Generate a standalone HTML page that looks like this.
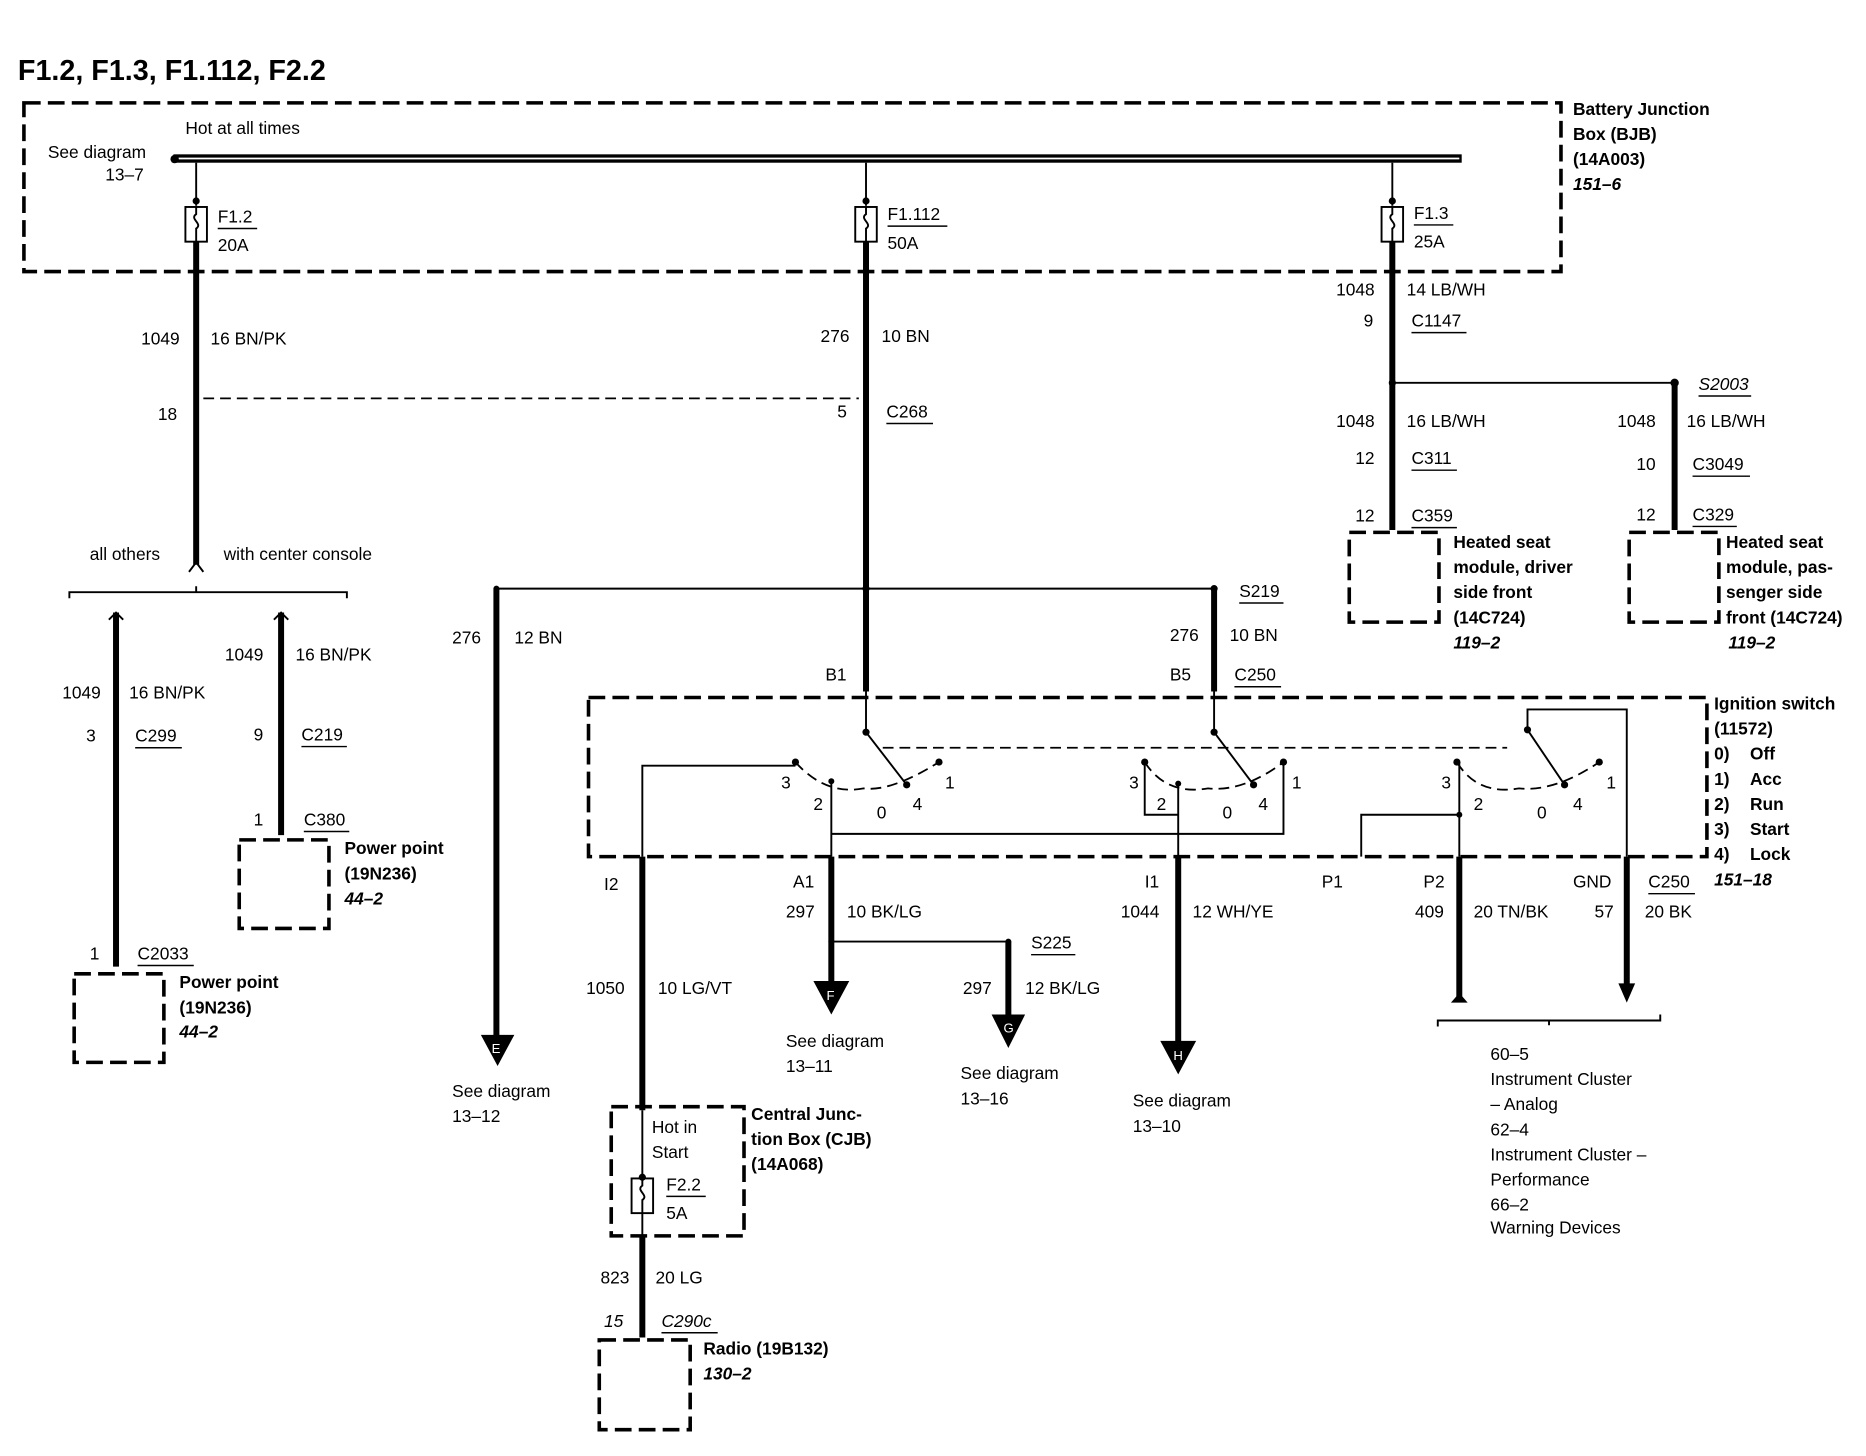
<!DOCTYPE html>
<html><head><meta charset="utf-8"><style>
html,body{margin:0;padding:0;background:#fff;}
svg{display:block;}
text{font-family:"Liberation Sans",Arial,sans-serif;font-size:14.5px;fill:#000;}
.b{font-weight:bold;}
.i{font-style:italic;font-weight:bold;}
.t{stroke:#000;stroke-width:5;fill:none;}
.n{stroke:#000;stroke-width:1.6;fill:none;}
.d{stroke:#000;stroke-width:3;fill:none;stroke-dasharray:14 6;}
.dl{stroke:#000;stroke-width:1.5;fill:none;stroke-dasharray:9 5;}
.u{stroke:#000;stroke-width:1.2;}
</style></head><body>
<svg width="1866" height="1456" viewBox="0 0 1560 1217" preserveAspectRatio="none" xmlns="http://www.w3.org/2000/svg">
<rect width="1560" height="1217" fill="#fff"/>
<text x="15" y="67" class="b" style="font-size:24px">F1.2, F1.3, F1.112, F2.2</text>

<!-- BJB -->
<rect x="20" y="86" width="1285" height="141" class="d"/>
<text x="1315" y="96" class="b">Battery Junction</text>
<text x="1315" y="117" class="b">Box (BJB)</text>
<text x="1315" y="138" class="b">(14A003)</text>
<text x="1315" y="159" class="i">151–6</text>
<text x="155" y="112">Hot at all times</text>
<text x="40" y="132">See diagram</text>
<text x="88" y="151">13–7</text>
<rect x="145" y="129" width="1077" height="7" fill="#000"/>
<line x1="148" y1="132.5" x2="1220" y2="132.5" stroke="#fff" stroke-width="1.5"/>
<circle cx="146" cy="133" r="3.5" fill="#000"/>

<!-- fuses -->
<g>
<line x1="164" y1="136" x2="164" y2="172" class="n"/><circle cx="164" cy="168" r="3" fill="#000"/>
<rect x="155" y="173" width="18" height="29" class="n" stroke-width="2"/>
<path d="M164 173 v6 c-6 4 6 8 0 12 v11" class="n"/>
<text x="182" y="186">F1.2</text><line x1="182" y1="191" x2="215" y2="191" class="u"/><text x="182" y="210">20A</text>

<line x1="724" y1="136" x2="724" y2="172" class="n"/><circle cx="724" cy="168" r="3" fill="#000"/>
<rect x="715" y="173" width="18" height="29" class="n" stroke-width="2"/>
<path d="M724 173 v6 c-6 4 6 8 0 12 v11" class="n"/>
<text x="742" y="184">F1.112</text><line x1="742" y1="189" x2="792" y2="189" class="u"/><text x="742" y="208">50A</text>

<line x1="1164" y1="136" x2="1164" y2="172" class="n"/><circle cx="1164" cy="168" r="3" fill="#000"/>
<rect x="1155" y="173" width="18" height="29" class="n" stroke-width="2"/>
<path d="M1164 173 v6 c-6 4 6 8 0 12 v11" class="n"/>
<text x="1182" y="183">F1.3</text><line x1="1182" y1="188" x2="1215" y2="188" class="u"/><text x="1182" y="207">25A</text>
</g>

<!-- left trunk -->
<line x1="164" y1="202" x2="164" y2="472" class="t"/>
<text x="118" y="288">1049</text><text x="176" y="288">16 BN/PK</text>
<text x="132" y="351">18</text>
<line x1="170" y1="333" x2="718" y2="333" class="dl"/>
<path d="M158 478 l6 -8 l6 8" class="n" stroke-width="2.5"/>
<text x="75" y="468">all others</text><text x="187" y="468">with center console</text>
<path d="M58 500 v-5 h232 v5 M164 495 v-5" class="n" stroke-width="3"/>

<line x1="97" y1="512" x2="97" y2="808" class="t"/>
<path d="M91 518 l6 -6 l6 6" class="n" stroke-width="2"/>
<text x="52" y="584">1049</text><text x="108" y="584">16 BN/PK</text>
<text x="72" y="620">3</text><text x="113" y="620">C299</text><line x1="113" y1="625" x2="152" y2="625" class="u"/>
<text x="75" y="802">1</text><text x="115" y="802">C2033</text><line x1="115" y1="807" x2="162" y2="807" class="u"/>
<rect x="62" y="814" width="75" height="74" class="d"/>
<text x="150" y="826" class="b">Power point</text><text x="150" y="847" class="b">(19N236)</text><text x="150" y="867" class="i">44–2</text>

<line x1="235" y1="512" x2="235" y2="698" class="t"/>
<path d="M229 518 l6 -6 l6 6" class="n" stroke-width="2"/>
<text x="188" y="552">1049</text><text x="247" y="552">16 BN/PK</text>
<text x="212" y="619">9</text><text x="252" y="619">C219</text><line x1="252" y1="624" x2="290" y2="624" class="u"/>
<text x="212" y="690">1</text><text x="254" y="690">C380</text><line x1="254" y1="695" x2="292" y2="695" class="u"/>
<rect x="200" y="702" width="75" height="74" class="d"/>
<text x="288" y="714" class="b">Power point</text><text x="288" y="735" class="b">(19N236)</text><text x="288" y="756" class="i">44–2</text>

<!-- center trunk -->
<line x1="724" y1="202" x2="724" y2="578" class="t"/>
<text x="686" y="286">276</text><text x="737" y="286">10 BN</text>
<text x="700" y="349">5</text><text x="741" y="349">C268</text><line x1="741" y1="354" x2="780" y2="354" class="u"/>
<line x1="415" y1="492" x2="1015" y2="492" class="n"/>
<circle cx="724" cy="492" r="3" fill="#000"/><circle cx="415" cy="492" r="2.5" fill="#000"/><circle cx="1015" cy="492" r="3" fill="#000"/>
<line x1="415" y1="492" x2="415" y2="868" class="t"/>
<path d="M402 865 h28 l-14 26 z" fill="#000"/><text x="411" y="880" style="font-size:11px;fill:#fff">E</text>
<text x="378" y="538">276</text><text x="430" y="538">12 BN</text>
<text x="378" y="917">See diagram</text><text x="378" y="938">13–12</text>
<text x="1036" y="499">S219</text><line x1="1036" y1="504" x2="1073" y2="504" class="u"/>
<line x1="1015" y1="492" x2="1015" y2="578" class="t"/>
<text x="978" y="536">276</text><text x="1028" y="536">10 BN</text>
<text x="690" y="569">B1</text><text x="978" y="569">B5</text><text x="1032" y="569">C250</text><line x1="1032" y1="574" x2="1071" y2="574" class="u"/>

<!-- ignition switch -->
<rect x="492" y="583" width="935" height="133" class="d"/>
<text x="1433" y="593" class="b">Ignition switch</text>
<text x="1433" y="614" class="b">(11572)</text>
<text x="1433" y="635" class="b">0)</text><text x="1463" y="635" class="b">Off</text>
<text x="1433" y="656" class="b">1)</text><text x="1463" y="656" class="b">Acc</text>
<text x="1433" y="677" class="b">2)</text><text x="1463" y="677" class="b">Run</text>
<text x="1433" y="698" class="b">3)</text><text x="1463" y="698" class="b">Start</text>
<text x="1433" y="719" class="b">4)</text><text x="1463" y="719" class="b">Lock</text>
<text x="1433" y="740" class="i">151–18</text>

<line x1="738" y1="625" x2="1260" y2="625" class="dl"/>
<!-- switch1 -->
<line x1="724" y1="578" x2="724" y2="612" class="n"/><circle cx="724" cy="612" r="3" fill="#000"/>
<line x1="724" y1="612" x2="758" y2="656" class="n"/>
<path d="M665 637 Q690 665 722 659 Q745 662 785 637" class="dl"/>
<circle cx="665" cy="637" r="3" fill="#000"/><circle cx="785" cy="637" r="3" fill="#000"/><circle cx="758" cy="656" r="3" fill="#000"/><circle cx="695" cy="653" r="2.5" fill="#000"/>
<text x="653" y="659">3</text><text x="680" y="677">2</text><text x="733" y="684">0</text><text x="763" y="677">4</text><text x="790" y="659">1</text>
<path d="M537 716 V640 H665" class="n"/>
<path d="M695 653 V716 M695 697 H1073 V637" class="n"/>
<!-- switch2 -->
<line x1="1015" y1="578" x2="1015" y2="612" class="n"/><circle cx="1015" cy="612" r="3" fill="#000"/>
<line x1="1015" y1="612" x2="1048" y2="656" class="n"/>
<path d="M957 637 Q975 665 1010 659 Q1040 662 1073 637" class="dl"/>
<circle cx="957" cy="637" r="3" fill="#000"/><circle cx="1073" cy="637" r="3" fill="#000"/><circle cx="1048" cy="656" r="3" fill="#000"/><circle cx="985" cy="655" r="2.5" fill="#000"/>
<path d="M957 637 V681 H985 M985 655 V716" class="n"/>
<text x="944" y="659">3</text><text x="967" y="677">2</text><text x="1022" y="684">0</text><text x="1052" y="677">4</text><text x="1080" y="659">1</text>
<!-- switch3 -->
<path d="M1360 716 V593 H1277 V610" class="n"/><circle cx="1277" cy="610" r="3" fill="#000"/>
<line x1="1277" y1="610" x2="1308" y2="656" class="n"/>
<path d="M1218 637 Q1235 665 1270 659 Q1300 662 1337 637" class="dl"/>
<circle cx="1218" cy="637" r="3" fill="#000"/><circle cx="1337" cy="637" r="3" fill="#000"/><circle cx="1308" cy="656" r="3" fill="#000"/>
<text x="1205" y="659">3</text><text x="1232" y="677">2</text><text x="1285" y="684">0</text><text x="1315" y="677">4</text><text x="1343" y="659">1</text>
<path d="M1220 637 V716 M1220 681 H1138 V716" class="n"/><circle cx="1220" cy="681" r="2.5" fill="#000"/>

<!-- outputs -->
<text x="505" y="744">I2</text>
<line x1="537" y1="716" x2="537" y2="928" class="t"/>
<text x="490" y="831">1050</text><text x="550" y="831">10 LG/VT</text>
<text x="663" y="742">A1</text>
<line x1="695" y1="716" x2="695" y2="822" class="t"/>
<path d="M680 820 h30 l-15 28 z" fill="#000"/><text x="691" y="836" style="font-size:11px;fill:#fff">F</text>
<text x="657" y="767">297</text><text x="708" y="767">10 BK/LG</text>
<line x1="695" y1="787" x2="843" y2="787" class="n"/><circle cx="695" cy="787" r="2.5" fill="#000"/><circle cx="843" cy="787" r="2.5" fill="#000"/>
<line x1="843" y1="787" x2="843" y2="850" class="t"/>
<path d="M829 848 h28 l-14 28 z" fill="#000"/><text x="839" y="863" style="font-size:11px;fill:#fff">G</text>
<text x="862" y="793">S225</text><line x1="862" y1="798" x2="899" y2="798" class="u"/>
<text x="805" y="831">297</text><text x="857" y="831">12 BK/LG</text>
<text x="657" y="875">See diagram</text><text x="657" y="896">13–11</text>
<text x="803" y="902">See diagram</text><text x="803" y="923">13–16</text>
<text x="957" y="742">I1</text>
<line x1="985" y1="716" x2="985" y2="872" class="t"/>
<path d="M970 870 h30 l-15 28 z" fill="#000"/><text x="981" y="886" style="font-size:11px;fill:#fff">H</text>
<text x="937" y="767">1044</text><text x="997" y="767">12 WH/YE</text>
<text x="947" y="925">See diagram</text><text x="947" y="946">13–10</text>
<text x="1105" y="742">P1</text>
<text x="1190" y="742">P2</text>
<line x1="1220" y1="716" x2="1220" y2="835" class="t"/>
<path d="M1213 838 l7 -8 l7 8 z" fill="#000"/>
<text x="1183" y="767">409</text><text x="1232" y="767">20 TN/BK</text>
<text x="1315" y="742">GND</text><text x="1378" y="742">C250</text><line x1="1378" y1="747" x2="1417" y2="747" class="u"/>
<text x="1333" y="767">57</text><text x="1375" y="767">20 BK</text>
<line x1="1360" y1="716" x2="1360" y2="825" class="t"/>
<path d="M1353 822 h14 l-7 16 z" fill="#000"/>
<path d="M1202 858 v-5 h186 v-5 M1295 853 v4" class="n" stroke-width="3"/>
<text x="1246" y="886">60–5</text>
<text x="1246" y="907">Instrument Cluster</text>
<text x="1246" y="928">– Analog</text>
<text x="1246" y="949">62–4</text>
<text x="1246" y="970">Instrument Cluster –</text>
<text x="1246" y="991">Performance</text>
<text x="1246" y="1012">66–2</text>
<text x="1246" y="1031">Warning Devices</text>

<!-- CJB -->
<rect x="511" y="925" width="111" height="108" class="d"/>
<text x="545" y="947">Hot in</text><text x="545" y="968">Start</text>
<line x1="537" y1="928" x2="537" y2="985" class="n"/><circle cx="537" cy="984" r="3" fill="#000"/>
<rect x="528" y="985" width="18" height="29" class="n" stroke-width="2"/>
<path d="M537 985 v6 c-6 4 6 8 0 12 v11" class="n"/>
<line x1="537" y1="1014" x2="537" y2="1033" class="n"/>
<text x="557" y="995">F2.2</text><line x1="557" y1="1000" x2="590" y2="1000" class="u"/><text x="557" y="1019">5A</text>
<text x="628" y="936" class="b">Central Junc-</text><text x="628" y="957" class="b">tion Box (CJB)</text><text x="628" y="978" class="b">(14A068)</text>
<line x1="537" y1="1033" x2="537" y2="1118" class="t"/>
<text x="502" y="1073">823</text><text x="548" y="1073">20 LG</text>
<text x="505" y="1109" style="font-style:italic">15</text><text x="553" y="1109" style="font-style:italic">C290c</text><line x1="553" y1="1114" x2="600" y2="1114" class="u"/>
<rect x="501" y="1120" width="76" height="75" class="d"/>
<text x="588" y="1132" class="b">Radio (19B132)</text><text x="588" y="1153" class="i">130–2</text>

<!-- right side -->
<line x1="1164" y1="202" x2="1164" y2="443" class="t"/>
<text x="1117" y="247">1048</text><text x="1176" y="247">14 LB/WH</text>
<text x="1140" y="273">9</text><text x="1180" y="273">C1147</text><line x1="1180" y1="278" x2="1226" y2="278" class="u"/>
<line x1="1164" y1="320" x2="1400" y2="320" class="n"/><circle cx="1164" cy="320" r="3" fill="#000"/><circle cx="1400" cy="320" r="3.5" fill="#000"/>
<text x="1420" y="326" style="font-style:italic">S2003</text><line x1="1420" y1="331" x2="1464" y2="331" class="u"/>
<text x="1117" y="357">1048</text><text x="1176" y="357">16 LB/WH</text>
<text x="1133" y="388">12</text><text x="1180" y="388">C311</text><line x1="1180" y1="393" x2="1218" y2="393" class="u"/>
<text x="1133" y="436">12</text><text x="1180" y="436">C359</text><line x1="1180" y1="441" x2="1218" y2="441" class="u"/>
<rect x="1128" y="445" width="75" height="75" class="d"/>
<text x="1215" y="458" class="b">Heated seat</text><text x="1215" y="479" class="b">module, driver</text><text x="1215" y="500" class="b">side front</text><text x="1215" y="521" class="b">(14C724)</text><text x="1215" y="542" class="i">119–2</text>
<line x1="1400" y1="320" x2="1400" y2="443" class="t"/>
<text x="1352" y="357">1048</text><text x="1410" y="357">16 LB/WH</text>
<text x="1368" y="393">10</text><text x="1415" y="393">C3049</text><line x1="1415" y1="398" x2="1463" y2="398" class="u"/>
<text x="1368" y="435">12</text><text x="1415" y="435">C329</text><line x1="1415" y1="440" x2="1452" y2="440" class="u"/>
<rect x="1362" y="445" width="75" height="75" class="d"/>
<text x="1443" y="458" class="b">Heated seat</text><text x="1443" y="479" class="b">module, pas-</text><text x="1443" y="500" class="b">senger side</text><text x="1443" y="521" class="b">front (14C724)</text><text x="1445" y="542" class="i">119–2</text>
</svg>
</body></html>
